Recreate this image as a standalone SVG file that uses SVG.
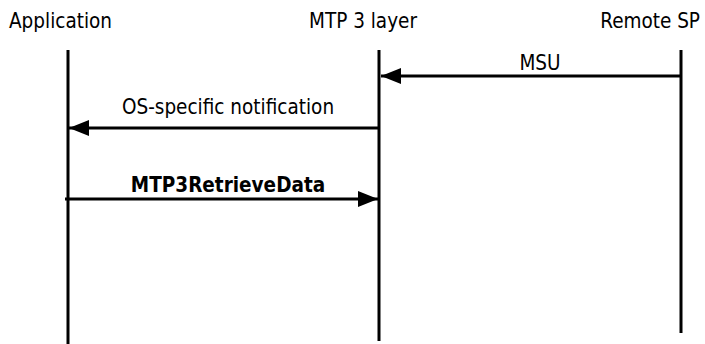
<svg xmlns="http://www.w3.org/2000/svg" width="705" height="344" viewBox="0 0 705 344">
<style>
text{font-family:"DejaVu Sans Condensed","DejaVu Sans",sans-serif;font-size:20.5px;fill:#000}
.life{stroke:#000;stroke-width:3;fill:none}
.msg{stroke:#000;stroke-width:3;fill:none}
</style>
<defs>
<marker id="ah" markerWidth="20" markerHeight="16" refX="20" refY="8" orient="auto" markerUnits="userSpaceOnUse">
<path d="M0,0 L20,8 L0,16 Z" fill="#000"/>
</marker>
</defs>
<rect width="705" height="344" fill="#fff"/>
<g id="application">
<text x="9" y="28">Application</text>
<line class="life" x1="68" y1="50" x2="68" y2="344"/>
</g>
<g id="mtp3">
<text x="363" y="28" text-anchor="middle">MTP 3 layer</text>
<line class="life" x1="379" y1="50" x2="379" y2="341"/>
</g>
<g id="remote">
<text x="700" y="28" text-anchor="end">Remote SP</text>
<line class="life" x1="681" y1="50" x2="681" y2="333"/>
</g>
<g id="connectors">
<line class="msg" x1="681" y1="76" x2="381" y2="76" marker-end="url(#ah)"/>
<text x="540" y="70" text-anchor="middle">MSU</text>
<line class="msg" x1="379" y1="128" x2="69" y2="128" marker-end="url(#ah)"/>
<text x="228" y="114" text-anchor="middle">OS-specific notification</text>
<line class="msg" x1="65" y1="199" x2="378" y2="199" marker-end="url(#ah)"/>
<text x="228" y="192" text-anchor="middle" font-weight="bold">MTP3RetrieveData</text>
</g>
</svg>
